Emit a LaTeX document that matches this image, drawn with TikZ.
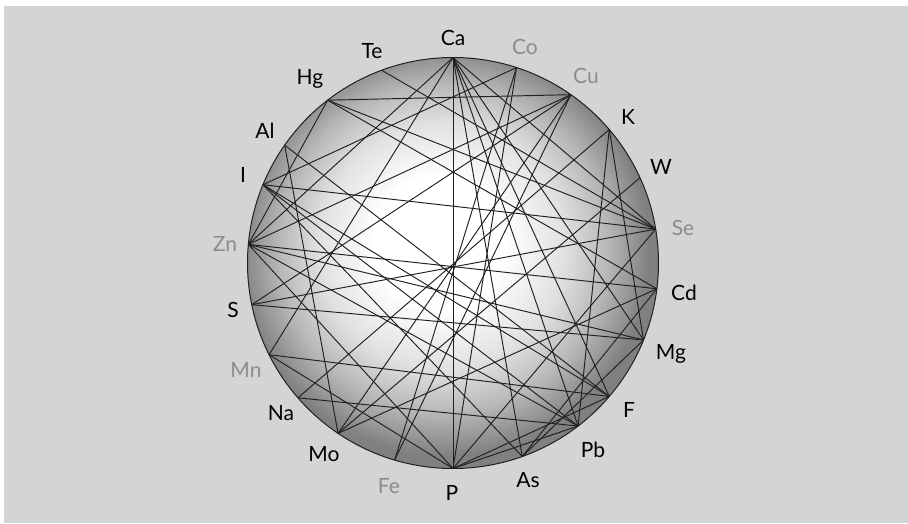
\documentclass[tikz,border=0pt]{standalone}
\usepackage{fontspec}
\setmainfont{Lato}
\definecolor{panelgray}{RGB}{211,212,214}
\definecolor{inkline}{RGB}{35,31,32}
\definecolor{mutegray}{RGB}{140,140,142}
\pgfdeclareradialshading{orbshade}{\pgfpoint{-2bp}{3bp}}{%
  color(0bp)=(white); color(8bp)=(white); color(15bp)=(black!12);
  color(20bp)=(black!28); color(25bp)=(black!50); color(50bp)=(black!50)}
\tikzset{
  chord/.style={draw=inkline,line width=0.95pt},
  elem/.style={font=\fontsize{21}{24}\selectfont,text=black,inner sep=0pt},
  elemgray/.style={elem,text=mutegray},
}
\begin{document}
\begin{tikzpicture}[x=1pt,y=1pt]
\useasboundingbox (-453,-260) rectangle (455,263);
\fill[panelgray] (-449,-260) rectangle (455,257);
% the sphere
\shade[shading=orbshade] (0,0) circle (205.5);
\draw[inkline,line width=1pt] (0,0) circle (205.5);
% points on the rim
\foreach \el/\ang in {Ca/90,Co/72,Cu/55,K/40.5,W/24.5,Se/9.5,Cd/-7.2,
    Mg/-22,F/-40.5,Pb/-52.5,As/-70.3,P/-90,Fe/-106.5,Mo/-124,Na/-139,
    Mn/-153.5,S/-168.3,Zn/174.8,I/157.6,Al/145,Hg/127.6,Te/110.3}
  \coordinate (\el) at (\ang:205.5);
% labels
\node[elem] (lCa) at (0,225) {Ca};
\node[elem] (lTe) at (-81,212) {Te};
\node[elemgray] (lCo) at (72,216) {Co};
\node[elem] (lHg) at (-143,184) {Hg};
\node[elemgray] (lCu) at (133,187) {Cu};
\node[elem] (lAl) at (-188,132) {Al};
\node[elem] (lK) at (175,146) {K};
\node[elem] (lI) at (-210,88) {I};
\node[elem] (lW) at (208,96) {W};
\node[elemgray] (lZn) at (-228,19) {Zn};
\node[elemgray] (lSe) at (230,35) {Se};
\node[elem] (lCd) at (231,-30) {Cd};
\node[elem] (lS) at (-220,-47) {S};
\node[elem] (lMg) at (218,-91) {Mg};
\node[elemgray] (lMn) at (-207,-107) {Mn};
\node[elem] (lF) at (176,-147) {F};
\node[elem] (lNa) at (-172,-150) {Na};
\node[elem] (lPb) at (140,-187) {Pb};
\node[elem] (lMo) at (-129,-191) {Mo};
\node[elem] (lAs) at (75,-217) {As};
\node[elemgray] (lFe) at (-64,-223) {Fe};
\node[elem] (lP) at (-1,-230) {P};
% chords
\foreach \a/\b in {Ca/P,Co/Fe,Cu/Mo,K/Na,Se/S,Zn/Cd,
    Ca/Zn,Ca/Mn,Ca/Se,Ca/Mg,Ca/Pb,Ca/As,Ca/F,
    Te/Se,Co/I,Co/P,Hg/Cu,Hg/Se,Hg/Cd,Hg/Zn,
    Cu/Zn,Cu/Fe,Cu/S,Al/F,Al/Mo,K/Pb,K/Mg,
    I/Se,I/F,I/As,I/Pb,W/Mo,Zn/P,Zn/Mg,Zn/Pb,
    Se/P,S/Mg,Mn/P,Mn/F,Na/Pb,Mo/Cd,As/Mg,As/Cd,P/F,P/Pb}
  \draw[chord] (\a) -- (\b);
\end{tikzpicture}
\end{document}
